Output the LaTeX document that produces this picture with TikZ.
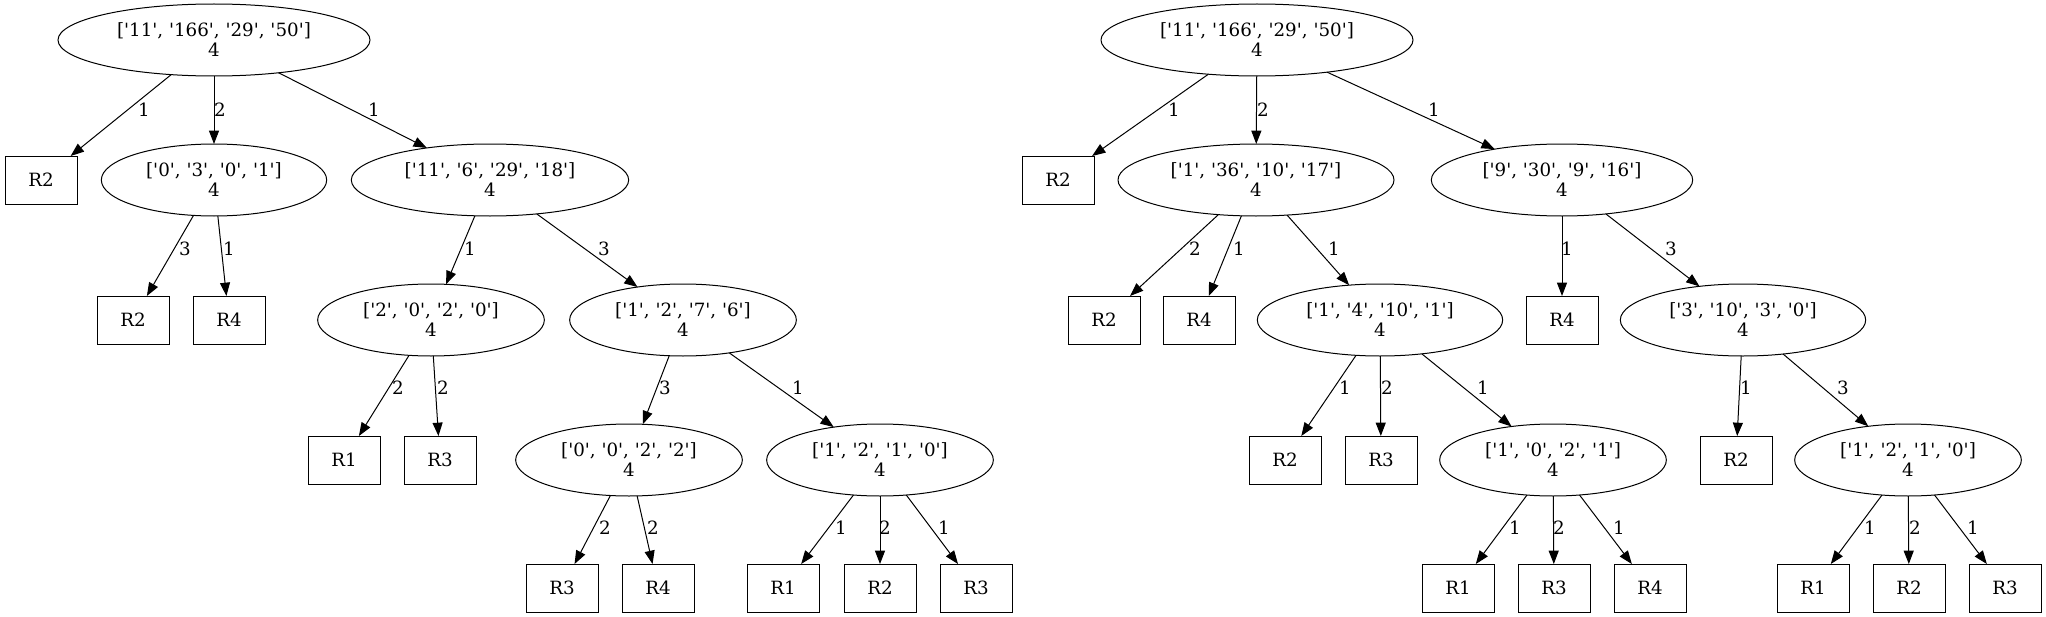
\documentclass[tikz,border=0pt]{standalone}
\usepackage{fontspec}
\setmainfont{DejaVu Serif}[Ligatures=TeXOff]
\usetikzlibrary{shapes.geometric,arrows.meta}
\newcommand\gvsize{\fontsize{13.7pt}{15pt}\selectfont}
\tikzset{
 gvell/.style={ellipse, draw, line width=0.75pt, inner sep=0pt, outer sep=0pt, minimum height=54pt, align=center, font=\gvsize},
 gvbox/.style={rectangle, draw, line width=0.75pt, minimum width=54pt, minimum height=36pt, inner sep=0pt, outer sep=0pt, font=\gvsize},
 gvedge/.style={line width=0.75pt, -{Triangle[length=10pt,width=7.5pt]}},
 lbl/.style={font=\gvsize, inner sep=0pt},
}
\begin{document}
\begin{tikzpicture}[x=0.75pt,y=-0.75pt]
\path[use as bounding box] (0,0) rectangle (2046,617);
% ---------------- left tree ----------------
\node[gvell, minimum width=234pt] (A) at (214,40) {['11', '166', '29', '50']\\4};
\node[gvbox] (A2) at (41,180) {R2};
\node[gvell, minimum width=169pt] (B) at (214,180) {['0', '3', '0', '1']\\4};
\node[gvell, minimum width=208pt] (C) at (490,180) {['11', '6', '29', '18']\\4};
\node[gvbox] (B1) at (133,320) {R2};
\node[gvbox] (B2) at (229,320) {R4};
\node[gvell, minimum width=170pt] (D) at (431,320) {['2', '0', '2', '0']\\4};
\node[gvell, minimum width=170pt] (E) at (683,320) {['1', '2', '7', '6']\\4};
\node[gvbox] (D1) at (344,460) {R1};
\node[gvbox] (D2) at (440,460) {R3};
\node[gvell, minimum width=170pt] (F) at (629,460) {['0', '0', '2', '2']\\4};
\node[gvell, minimum width=170pt] (G) at (880,460) {['1', '2', '1', '0']\\4};
\node[gvbox] (F1) at (562,588) {R3};
\node[gvbox] (F2) at (658,588) {R4};
\node[gvbox] (G1) at (783,588) {R1};
\node[gvbox] (G2) at (880,588) {R2};
\node[gvbox] (G3) at (976,588) {R3};
\draw[gvedge] (A) -- (A2) node[lbl, at={(144,110)}] {1};
\draw[gvedge] (A) -- (B) node[lbl, at={(220,110)}] {2};
\draw[gvedge] (A) -- (C) node[lbl, at={(374,110)}] {1};
\draw[gvedge] (B) -- (B1) node[lbl, at={(185,249)}] {3};
\draw[gvedge] (B) -- (B2) node[lbl, at={(229,249)}] {1};
\draw[gvedge] (C) -- (D) node[lbl, at={(470,249)}] {1};
\draw[gvedge] (C) -- (E) node[lbl, at={(604,249)}] {3};
\draw[gvedge] (D) -- (D1) node[lbl, at={(398,388)}] {2};
\draw[gvedge] (D) -- (D2) node[lbl, at={(443,388)}] {2};
\draw[gvedge] (E) -- (F) node[lbl, at={(665,388)}] {3};
\draw[gvedge] (E) -- (G) node[lbl, at={(798,388)}] {1};
\draw[gvedge] (F) -- (F1) node[lbl, at={(605,528)}] {2};
\draw[gvedge] (F) -- (F2) node[lbl, at={(653,528)}] {2};
\draw[gvedge] (G) -- (G1) node[lbl, at={(841,528)}] {1};
\draw[gvedge] (G) -- (G2) node[lbl, at={(885,528)}] {2};
\draw[gvedge] (G) -- (G3) node[lbl, at={(944,528)}] {1};
% ---------------- right tree ----------------
\node[gvell, minimum width=234pt] (P) at (1257,40) {['11', '166', '29', '50']\\4};
\node[gvbox] (P1) at (1058,180) {R2};
\node[gvell, minimum width=207pt] (Q) at (1256,180) {['1', '36', '10', '17']\\4};
\node[gvell, minimum width=196pt] (S) at (1562,180) {['9', '30', '9', '16']\\4};
\node[gvbox] (Q1) at (1104,320) {R2};
\node[gvbox] (Q2) at (1199,320) {R4};
\node[gvell, minimum width=184pt] (T) at (1380,320) {['1', '4', '10', '1']\\4};
\node[gvbox] (S1) at (1562,320) {R4};
\node[gvell, minimum width=184pt] (U) at (1743,320) {['3', '10', '3', '0']\\4};
\node[gvbox] (T1) at (1285,460) {R2};
\node[gvbox] (T2) at (1381,460) {R3};
\node[gvell, minimum width=170pt] (V) at (1553,460) {['1', '0', '2', '1']\\4};
\node[gvbox] (U1) at (1736,460) {R2};
\node[gvell, minimum width=170pt] (W) at (1908,460) {['1', '2', '1', '0']\\4};
\node[gvbox] (V1) at (1458,588) {R1};
\node[gvbox] (V2) at (1554,588) {R3};
\node[gvbox] (V3) at (1650,588) {R4};
\node[gvbox] (W1) at (1813,588) {R1};
\node[gvbox] (W2) at (1909,588) {R2};
\node[gvbox] (W3) at (2005,588) {R3};
\draw[gvedge] (P) -- (P1) node[lbl, at={(1174,110)}] {1};
\draw[gvedge] (P) -- (Q) node[lbl, at={(1263,110)}] {2};
\draw[gvedge] (P) -- (S) node[lbl, at={(1434,110)}] {1};
\draw[gvedge] (Q) -- (Q1) node[lbl, at={(1195,249)}] {2};
\draw[gvedge] (Q) -- (Q2) node[lbl, at={(1239,249)}] {1};
\draw[gvedge] (Q) -- (T) node[lbl, at={(1334,249)}] {1};
\draw[gvedge] (S) -- (S1) node[lbl, at={(1567,249)}] {1};
\draw[gvedge] (S) -- (U) node[lbl, at={(1671,249)}] {3};
\draw[gvedge] (T) -- (T1) node[lbl, at={(1345,388)}] {1};
\draw[gvedge] (T) -- (T2) node[lbl, at={(1387,388)}] {2};
\draw[gvedge] (T) -- (V) node[lbl, at={(1483,388)}] {1};
\draw[gvedge] (U) -- (U1) node[lbl, at={(1746,388)}] {1};
\draw[gvedge] (U) -- (W) node[lbl, at={(1843,388)}] {3};
\draw[gvedge] (V) -- (V1) node[lbl, at={(1515,528)}] {1};
\draw[gvedge] (V) -- (V2) node[lbl, at={(1559,528)}] {2};
\draw[gvedge] (V) -- (V3) node[lbl, at={(1619,528)}] {1};
\draw[gvedge] (W) -- (W1) node[lbl, at={(1870,528)}] {1};
\draw[gvedge] (W) -- (W2) node[lbl, at={(1915,528)}] {2};
\draw[gvedge] (W) -- (W3) node[lbl, at={(1973,528)}] {1};
\end{tikzpicture}
\end{document}
